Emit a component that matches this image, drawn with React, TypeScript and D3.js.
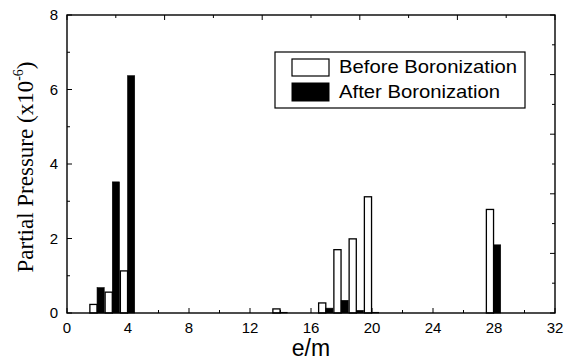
import React from "react";
import * as d3 from "d3";

const masses = [2, 3, 4, 14, 17, 18, 19, 20, 28];
const beforeValues = [0.23, 0.56, 1.13, 0.11, 0.27, 1.7, 1.99, 3.12, 2.78];
const afterValues = [0.68, 3.52, 6.37, 0.02, 0.13, 0.34, 0.07, 0.02, 1.83];
const xTickValues = [0, 4, 8, 12, 16, 20, 24, 28, 32];
const yTickValues = [0, 2, 4, 6, 8];
const legendLabels = ["Before Boronization", "After Boronization"];

const W = 564;
const H = 364;
const left = 67;
const right = 555;
const top = 15;
const bottom = 313;

export default function App() {
  const x = d3.scaleLinear().domain([0, 32]).range([left, right]);
  const y = d3.scaleLinear().domain([0, 8]).range([bottom, top]);
  const xTop = d3.scaleLinear().domain([0, 10]).range([left, right]);
  const yRight = d3.scaleLinear().domain([0, 10]).range([top, bottom]);
  const barW = 0.47;
  const off = -0.03;

  const xMinor = d3.range(0, 33, 2);
  const yMinor = d3.range(0, 9, 1);
  const divs = d3.range(0, 11, 1);

  return (
    <svg
      width={W}
      height={H}
      style={{ position: "absolute", left: 0, top: 0, background: "#fff" }}
      fontFamily="Liberation Sans, Arial, sans-serif"
    >
      <rect x={0} y={0} width={W} height={H} fill="#fff" />
      {/* bars */}
      {masses.map((m, i) => (
        <g key={m}>
          <rect
            x={x(m - barW + off)}
            y={y(beforeValues[i])}
            width={x(m + off) - x(m - barW + off)}
            height={y(0) - y(beforeValues[i])}
            fill="#fff"
            stroke="#000"
            strokeWidth={1.3}
          />
          <rect
            x={x(m + off)}
            y={y(afterValues[i])}
            width={x(m + barW + off) - x(m + off)}
            height={y(0) - y(afterValues[i])}
            fill="#000"
            stroke="#000"
            strokeWidth={0.6}
          />
        </g>
      ))}
      {/* frame */}
      <rect
        x={left}
        y={top}
        width={right - left}
        height={bottom - top}
        fill="none"
        stroke="#000"
        strokeWidth={1.4}
      />
      {/* bottom ticks */}
      {xMinor.map((v) => (
        <line
          key={"bx" + v}
          x1={x(v)}
          x2={x(v)}
          y1={bottom}
          y2={bottom - (v % 4 === 0 ? 5 : 3)}
          stroke="#000"
          strokeWidth={1}
        />
      ))}
      {/* left ticks */}
      {yMinor.map((v) => (
        <line
          key={"ly" + v}
          x1={left}
          x2={left + (v % 2 === 0 ? 5 : 3)}
          y1={y(v)}
          y2={y(v)}
          stroke="#000"
          strokeWidth={1}
        />
      ))}
      {/* top ticks */}
      {divs.map((v) => (
        <line
          key={"tx" + v}
          x1={xTop(v)}
          x2={xTop(v)}
          y1={top}
          y2={top + (v % 2 === 0 ? 5 : 3)}
          stroke="#000"
          strokeWidth={1}
        />
      ))}
      {/* right ticks */}
      {divs.map((v) => (
        <line
          key={"ry" + v}
          x1={right}
          x2={right - (v % 2 === 0 ? 5 : 3)}
          y1={yRight(v)}
          y2={yRight(v)}
          stroke="#000"
          strokeWidth={1}
        />
      ))}
      {/* tick labels */}
      {xTickValues.map((v) => (
        <text
          key={"xl" + v}
          x={x(v)}
          y={333}
          textAnchor="middle"
          fontSize={15}
          fill="#000"
        >
          {v}
        </text>
      ))}
      {yTickValues.map((v) => (
        <text
          key={"yl" + v}
          x={58}
          y={y(v) + 5.3}
          textAnchor="end"
          fontSize={15}
          fill="#000"
        >
          {v}
        </text>
      ))}
      {/* axis titles */}
      <text x={(left + right) / 2} y={356} textAnchor="middle" fontSize={23} fill="#000">
        e/m
      </text>
      <text
        transform={`translate(33, ${(top + bottom) / 2 + 3}) rotate(-90)`}
        textAnchor="middle"
        fontSize={23}
        fontFamily="Liberation Serif, Times New Roman, serif"
        fill="#000"
      >
        Partial Pressure (x10
        <tspan fontSize={14} dy={-10}>
          -6
        </tspan>
        <tspan dy={10}>)</tspan>
      </text>
      {/* legend */}
      <rect x={275} y={52} width={250} height={56} fill="#fff" stroke="#000" strokeWidth={1.2} />
      <rect x={292} y={59} width={37} height={17} fill="#fff" stroke="#000" strokeWidth={1.2} />
      <rect x={292} y={83} width={37} height={18} fill="#000" stroke="#000" strokeWidth={1} />
      <text x={339} y={73} fontSize={19} fill="#000" textLength={178} lengthAdjust="spacingAndGlyphs">
        {legendLabels[0]}
      </text>
      <text x={339} y={98} fontSize={19} fill="#000" textLength={161} lengthAdjust="spacingAndGlyphs">
        {legendLabels[1]}
      </text>
    </svg>
  );
}
